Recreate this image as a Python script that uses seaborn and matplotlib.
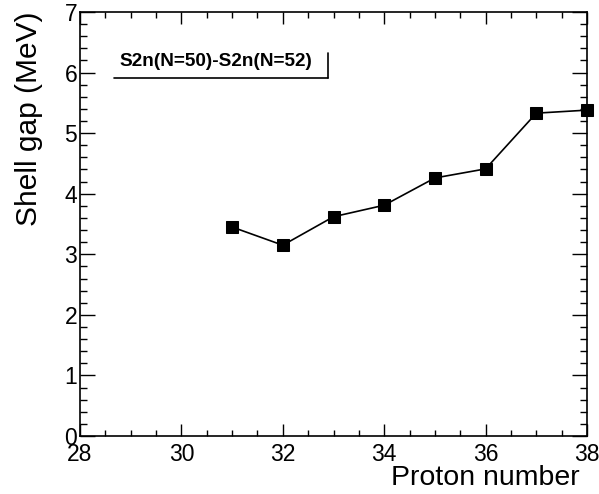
import matplotlib
matplotlib.use("Agg")
import matplotlib.pyplot as plt
from matplotlib.ticker import MultipleLocator
import seaborn as sns
import pandas as pd

proton_number = [31, 32, 33, 34, 35, 36, 37, 38]
shell_gap = [3.45, 3.15, 3.62, 3.81, 4.26, 4.41, 5.33, 5.38]
legend_label = "S2n(N=50)-S2n(N=52)"
x_title = "Proton number"
y_title = "Shell gap (MeV)"

sns.set_style("white")
plt.rcParams["font.family"] = ["Liberation Sans", "DejaVu Sans"]
plt.rcParams["text.color"] = "black"

df = pd.DataFrame({"Z": proton_number, "gap": shell_gap})

fig = plt.figure(figsize=(5.99, 4.94), dpi=100)
ax = fig.add_axes([80 / 599, 58 / 494, 507 / 599, 424 / 494])

sns.lineplot(data=df, x="Z", y="gap", ax=ax, color="black", lw=1.2,
             marker="s", markersize=8, markeredgecolor="black",
             markerfacecolor="black", clip_on=False)

ax.set_xlim(28, 38)
ax.set_ylim(0, 7)
ax.xaxis.set_major_locator(MultipleLocator(2))
ax.xaxis.set_minor_locator(MultipleLocator(0.5))
ax.yaxis.set_major_locator(MultipleLocator(1))
ax.yaxis.set_minor_locator(MultipleLocator(0.2))

for s in ax.spines.values():
    s.set_color("black")
    s.set_linewidth(1.2)

ax.tick_params(axis="x", which="major", direction="in", length=8.6, width=1,
               top=True, bottom=True, labelsize=16.5, pad=5, colors="black")
ax.tick_params(axis="x", which="minor", direction="in", length=4.3, width=1,
               top=True, bottom=True, colors="black")
ax.tick_params(axis="y", which="major", direction="in", length=10.8, width=1,
               left=True, right=True, labelsize=16.5, pad=2, colors="black")
ax.tick_params(axis="y", which="minor", direction="in", length=5, width=1,
               left=True, right=True, colors="black")

ax.set_xlabel("")
ax.set_ylabel("")
fig.text(580 / 599, 1 - 478 / 494, x_title, ha="right", va="center",
         fontsize=20.5, color="black")
fig.text(29 / 599, 1 - 12 / 494, y_title, ha="center", va="top", rotation=90,
         fontsize=21.5, color="black")

# legend box (ROOT style with shadow lines)
fig.text(216 / 599, 1 - 62 / 494, legend_label, ha="center", va="center",
         fontsize=13.7, fontweight="bold", color="black")
fig.add_artist(plt.Line2D([114 / 599, 328 / 599], [1 - 78 / 494, 1 - 78 / 494],
                          color="black", lw=1.2))
fig.add_artist(plt.Line2D([328 / 599, 328 / 599], [1 - 53 / 494, 1 - 78 / 494],
                          color="black", lw=1.2))

fig.savefig("out.png", dpi=100, facecolor="white")
